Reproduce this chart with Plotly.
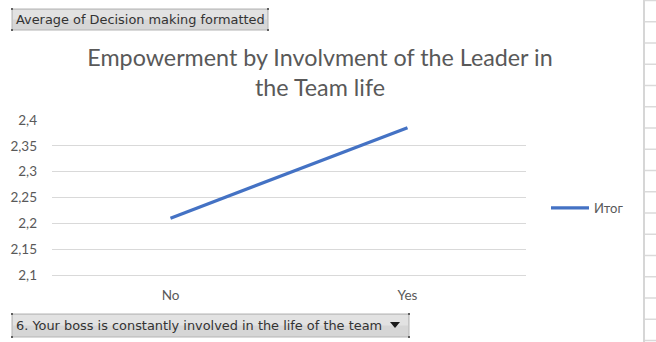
import plotly.graph_objects as go

# Pivot chart data: average decision-making score by leader involvement
categories = ["No", "Yes"]
values = [2.21, 2.385]
series_name = "Итог"

title_text = "Empowerment by Involvment of the Leader in<br>the Team life"
value_button_text = "Average of Decision making formatted"
field_button_text = "6. Your boss is constantly involved in the life of the team"

W, H = 656, 342


def px(x):
    return x / W


def py(y):
    return 1 - y / H


fig = go.Figure()
fig.add_trace(go.Scatter(
    x=categories, y=values, mode="lines", name=series_name,
    line=dict(color="#4472C4", width=3.2),
))

shapes = []
annotations = []

# spreadsheet column border and row lines on the right edge
shapes.append(dict(type="line", xref="paper", yref="paper",
                   x0=px(644), x1=px(644), y0=0, y1=1,
                   line=dict(color="#D6D6D6", width=2)))
for k in range(17):
    yy = 0.5 + 21.25 * k
    shapes.append(dict(type="line", xref="paper", yref="paper",
                       x0=px(645), x1=px(656), y0=py(yy), y1=py(yy),
                       line=dict(color="#DADADA", width=1.5)))


def pivot_button(x0, y0, x1, y1, text, dropdown=False):
    shapes.append(dict(type="rect", xref="paper", yref="paper",
                       x0=px(x0), x1=px(x1), y0=py(y1), y1=py(y0),
                       fillcolor="#D6D6D6", line=dict(color="#B4B4B4", width=1),
                       layer="above"))
    shapes.append(dict(type="rect", xref="paper", yref="paper",
                       x0=px(x0 + 1), x1=px(x1 - 1), y0=py(y0 + (y1 - y0) * 0.5),
                       y1=py(y0 + 1),
                       fillcolor="#E2E2E2", line=dict(width=0), layer="above"))
    for cx, cy in [(x0, y0), (x1, y0), (x0, y1), (x1, y1)]:
        shapes.append(dict(type="rect", xref="paper", yref="paper",
                           x0=px(cx - 1), x1=px(cx + 1), y0=py(cy + 1), y1=py(cy - 1),
                           fillcolor="#606060", line=dict(width=0), layer="above"))
    annotations.append(dict(xref="paper", yref="paper", x=px(x0 + 2),
                            y=py((y0 + y1) / 2), xanchor="left", yanchor="middle",
                            text=text, showarrow=False,
                            font=dict(family="DejaVu Sans", size=12.9, color="#333333")))
    if dropdown:
        shapes.append(dict(type="path", xref="paper", yref="paper",
                           path="M {} {} L {} {} L {} {} Z".format(
                               px(x1 - 19), py(y0 + 8), px(x1 - 9), py(y0 + 8),
                               px(x1 - 14), py(y0 + 14)),
                           fillcolor="#1A1A1A", line=dict(width=0), layer="above"))


pivot_button(12, 9, 268, 30, value_button_text)
pivot_button(12, 314, 409, 337, field_button_text, dropdown=True)

tick_font = dict(family="Lato", size=13.5, color="#595959")

fig.update_layout(
    width=W, height=H,
    margin=dict(l=0, r=0, t=0, b=0, pad=0),
    paper_bgcolor="white", plot_bgcolor="white",
    separators=", ",
    title=dict(text=title_text, x=px(320), xanchor="center", xref="paper",
               y=py(66), yanchor="top", yref="container", automargin=False,
               font=dict(family="Lato", size=23.3, color="#595959")),
    xaxis=dict(domain=[px(52), px(526)], type="category", range=[-0.5, 1.5],
               automargin=False,
               showgrid=False, showline=True, linecolor="#D9D9D9", linewidth=1,
               ticks="", tickfont=tick_font,
               ticklabelstandoff=8, fixedrange=True),
    yaxis=dict(domain=[py(275), py(120)], range=[2.1, 2.4], dtick=0.05,
               tick0=2.1, automargin=False,
               showgrid=True, gridcolor="#D9D9D9", gridwidth=1,
               zeroline=False, showline=False, ticks="",
               tickfont=tick_font,
               ticklabelstandoff=14, fixedrange=True),
    showlegend=True,
    legend=dict(x=px(546), y=py(208), xanchor="left", yanchor="middle",
                xref="paper", yref="paper", itemwidth=38,
                font=dict(family="Lato", size=13, color="#595959"),
                bgcolor="rgba(0,0,0,0)"),
    shapes=shapes,
    annotations=annotations,
)

fig.write_html("out.html")
